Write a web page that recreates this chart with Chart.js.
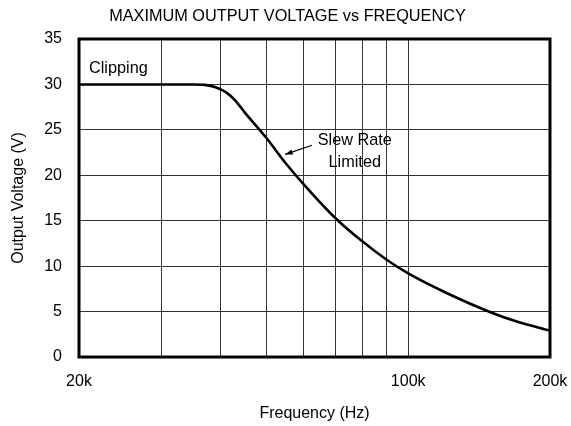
<!DOCTYPE html>
<html>
<head>
<meta charset="utf-8">
<script src="https://cdn.jsdelivr.net/npm/chart.js@4/dist/chart.umd.min.js"></script>
<style>
  html, body { margin: 0; padding: 0; background: #fff; }
  #wrap { width: 571px; height: 426px; }
</style>
</head>
<body>
<div id="wrap"><canvas id="chart"></canvas></div>
<script>
// frequency (Hz) and max output voltage (V)
const freqs = [20000, 30000, 35000, 37000, 39000, 41000, 43000, 45000, 50000, 55000, 60000, 70000, 80000, 90000, 100000, 120000, 150000, 170000, 200000];
const volts = [30, 30, 30, 29.95, 29.7, 29.15, 28.2, 26.9, 24.1, 21.3, 19.0, 15.3, 12.7, 10.7, 9.2, 7.1, 4.9, 3.9, 2.9];

const gridFreqs = [20000, 30000, 40000, 50000, 60000, 70000, 80000, 90000, 100000, 200000];
const labeledFreqs = { 20000: "20k", 100000: "100k", 200000: "200k" };

const chartTitle = "MAXIMUM OUTPUT VOLTAGE vs FREQUENCY";

// annotation text, in data units
const notes = [
  { text: "Clipping", x: 21000, y: 31.8, align: "left" },
  { text: "Slew Rate", x: 77000, y: 23.8, align: "center" },
  { text: "Limited", x: 77000, y: 21.4, align: "center" },
];
const arrow = { from: [62500, 23.3], to: [54800, 22.3] };

const FONT = "'Liberation Sans', Arial, sans-serif";

const extras = {
  id: "extras",
  afterDatasetsDraw(chart) {
    const { ctx, chartArea, scales } = chart;
    const x = scales.x, y = scales.y;
    ctx.save();
    // frame
    ctx.strokeStyle = "#000";
    ctx.lineWidth = 3;
    ctx.strokeRect(chartArea.left, chartArea.top, chartArea.right - chartArea.left, chartArea.bottom - chartArea.top);

    ctx.fillStyle = "#000";
    ctx.textBaseline = "middle";

    // title, roughly centred on the page
    ctx.font = "16.3px " + FONT;
    ctx.textAlign = "center";
    ctx.fillText(chartTitle, chart.width / 2 + 2, 17);

    // labels
    notes.forEach((n) => {
      ctx.textAlign = n.align;
      ctx.fillText(n.text, x.getPixelForValue(n.x), y.getPixelForValue(n.y));
    });

    // arrow
    const x1 = x.getPixelForValue(arrow.from[0]), y1 = y.getPixelForValue(arrow.from[1]);
    const x2 = x.getPixelForValue(arrow.to[0]), y2 = y.getPixelForValue(arrow.to[1]);
    const ang = Math.atan2(y2 - y1, x2 - x1);
    ctx.lineWidth = 1.2;
    ctx.beginPath();
    ctx.moveTo(x1, y1);
    ctx.lineTo(x2, y2);
    ctx.stroke();
    ctx.beginPath();
    ctx.moveTo(x2, y2);
    ctx.lineTo(x2 - 8 * Math.cos(ang - 0.35), y2 - 8 * Math.sin(ang - 0.35));
    ctx.lineTo(x2 - 8 * Math.cos(ang + 0.35), y2 - 8 * Math.sin(ang + 0.35));
    ctx.closePath();
    ctx.fill();
    ctx.restore();
  },
};

new Chart(document.getElementById("chart"), {
  type: "line",
  data: {
    datasets: [
      {
        data: freqs.map((f, i) => ({ x: f, y: volts[i] })),
        borderColor: "#000",
        borderWidth: 2.6,
        pointRadius: 0,
        fill: false,
        cubicInterpolationMode: "monotone",
      },
    ],
  },
  options: {
    responsive: true,
    maintainAspectRatio: false,
    animation: false,
    layout: { padding: { left: 0, right: 21, top: 39, bottom: 0 } },
    plugins: {
      legend: { display: false },
      tooltip: { enabled: false },
      title: { display: false },
    },
    scales: {
      x: {
        type: "logarithmic",
        min: 20000,
        max: 200000,
        afterBuildTicks: (scale) => {
          scale.ticks = gridFreqs.map((v) => ({ value: v }));
        },
        afterFit: (scale) => {
          scale.height = 69;
          scale.paddingLeft = 0;
          scale.paddingRight = 0;
        },
        ticks: {
          autoSkip: false,
          maxRotation: 0,
          color: "#000",
          padding: 15,
          font: { family: FONT, size: 16 },
          callback: (v) => labeledFreqs[v] || "",
        },
        grid: { color: "#333", lineWidth: 1, drawTicks: false },
        border: { display: false },
        title: {
          display: true,
          text: "Frequency (Hz)",
          color: "#000",
          font: { family: FONT, size: 16, lineHeight: 1.2 },
          padding: { top: 0, bottom: 3 },
        },
      },
      y: {
        min: 0,
        max: 35,
        afterFit: (scale) => {
          scale.width = 79;
        },
        ticks: {
          stepSize: 5,
          color: "#000",
          padding: 17,
          font: { family: FONT, size: 16 },
        },
        grid: { color: "#333", lineWidth: 1, drawTicks: false },
        border: { display: false },
        title: {
          display: true,
          text: "Output Voltage (V)",
          color: "#000",
          font: { family: FONT, size: 16, lineHeight: 1.2 },
          padding: { top: 8.6, bottom: 0 },
        },
      },
    },
  },
  plugins: [extras],
});
</script>
</body>
</html>
